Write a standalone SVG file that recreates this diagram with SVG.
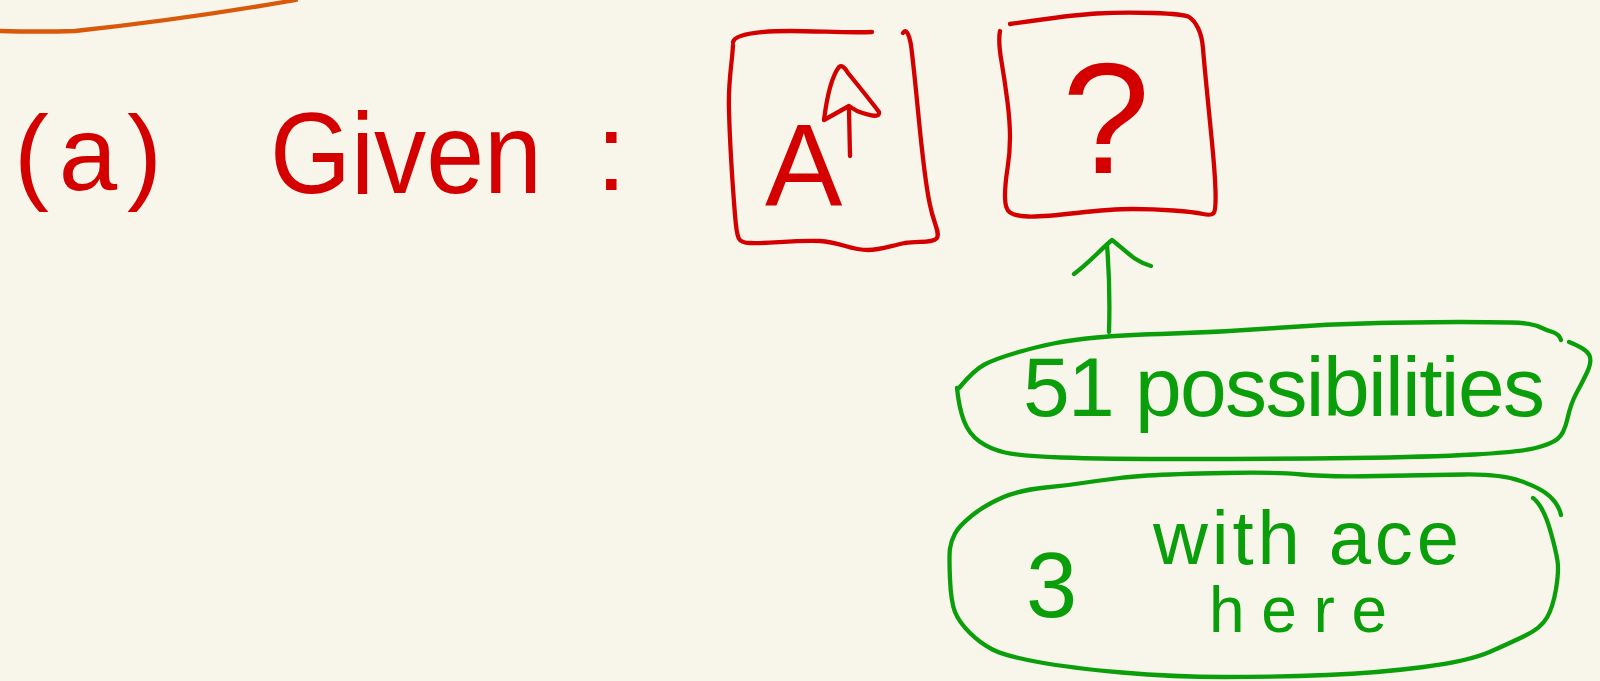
<svg xmlns="http://www.w3.org/2000/svg" width="1600" height="681" viewBox="0 0 1600 681">
<style>
.r{fill:none;stroke:#D40000;stroke-width:4.3;stroke-linecap:round;stroke-linejoin:round}
.g{fill:none;stroke:#0A9E0A;stroke-width:4.3;stroke-linecap:round;stroke-linejoin:round}
.o{fill:none;stroke:#D9580A;stroke-width:4.3;stroke-linecap:round}
.tr{fill:#D40000;font-family:"Liberation Sans",Arial,sans-serif}
.tg{fill:#0A9E0A;font-family:"Liberation Sans",Arial,sans-serif}
</style>
<rect width="1600" height="681" fill="#F8F6EA"/>
<path class="o" d="M0,31 Q40,32 75,31 Q180,20 296,0"/>
<g id="title">
<text class="tr" x="14" y="190" font-size="105" textLength="148" lengthAdjust="spacing">(a)</text>
<text class="tr" x="270" y="193" font-size="115" textLength="272" lengthAdjust="spacingAndGlyphs">Given</text>
<text class="tr" x="596" y="190" font-size="110">:</text>
</g>
<g id="box-ace">
<path class="r" d="M733,42 C735,34 760,31 790,31 C820,31 845,33 872,32"/>
<path class="r" d="M903,33 C906,28 909,34 911,45 C918,100 922,170 930,205 C934,225 940,232 937,238 C933,243 920,241 905,243 C890,246 880,250 868,250 C850,250 840,242 820,241 C790,240 770,244 750,243 C738,243 737,240 735,215 C733,190 730,150 729,110 C728,80 732,65 733,45"/>
<text class="tr" x="765" y="206" font-size="116">A</text>
<path class="r" d="M850,156 L849,110"/>
<path class="r" d="M824,120 Q829,80 839,67 Q843,64 848,73 Q870,100 879,112 Q881,120 857,111 L849,106 L824,120"/>
</g>
<g id="box-unknown">
<path class="r" d="M1010,24 Q1071,15 1096.5,13.5 Q1122,12 1153,13 Q1184,14 1189,17 Q1194,20 1198,28 Q1202,36 1203,48.5 Q1204,61 1206.5,86.5 Q1209,112 1212,142.5 Q1215,173 1215.5,191 Q1216,209 1214,212.5 Q1212,216 1203,214 Q1194,212 1173.5,210.5 Q1153,209 1132.5,209 Q1112,209 1076.5,213 Q1041,217 1028,216.5 Q1015,216 1010,212.5 Q1005,209 1005,196.5 Q1005,184 1007.5,168.5 Q1010,153 1010,137.5 Q1010,122 1007.5,102 Q1005,82 1001.5,61.5 Q998,41 1000,31"/>
<text class="tr" x="1106" y="173" font-size="158" text-anchor="middle">?</text>
</g>
<g id="connectors">
<path class="g" d="M1109,332 C1110,300 1109,270 1107,245"/>
<path class="g" d="M1074,274 C1090,262 1100,250 1112,240 C1125,250 1135,262 1151,266"/>
</g>
<g id="node-51">
<path class="g" d="M959,388 Q974,370 984.5,364.5 Q995,359 1015.5,353 Q1036,347 1053.5,343.5 Q1071,340 1096.5,337.5 Q1122,335 1173,333.5 Q1224,332 1275.5,328 Q1327,324 1378,323 Q1429,322 1459.5,322 Q1490,322 1510.5,322.5 Q1531,323 1538.5,326.5 Q1546,330 1552.5,332 Q1559,334 1561,340"/>
<path class="g" d="M1569,342 Q1587,349 1589.5,355.5 Q1592,362 1587,372.5 Q1582,383 1576.5,393 Q1571,403 1567.5,418.5 Q1564,434 1557.5,439 Q1551,444 1535.5,448 Q1520,452 1474.5,454.5 Q1429,457 1352.5,458 Q1276,459 1189,459 Q1102,459 1061,457.5 Q1020,456 1005,452.5 Q990,449 979.5,441.5 Q969,434 964,421 Q959,408 957,388"/>
<text class="tg" x="1023" y="416" font-size="84" textLength="522" lengthAdjust="spacing">51 possibilities</text>
</g>
<g id="node-3">
<path class="g" d="M1561,515 Q1559,505 1550,496.5 Q1541,488 1520.5,481 Q1500,474 1464.5,474.5 Q1429,475 1378,476 Q1327,477 1301.5,474.5 Q1276,472 1224.5,473 Q1173,474 1147.5,475.5 Q1122,477 1096.5,481 Q1071,485 1045.5,487.5 Q1020,490 1002.5,497.5 Q985,505 972,515.5 Q959,526 955,533.5 Q951,541 950,548.5 Q949,556 950,579 Q951,602 955,612 Q959,622 969.5,632.5 Q980,643 992.5,649.5 Q1005,656 1038,662 Q1071,668 1122,672.5 Q1173,677 1224.5,677 Q1276,677 1327,675 Q1378,673 1423.5,667 Q1469,661 1489.5,652 Q1510,643 1525.5,635.5 Q1541,628 1547,617.5 Q1553,607 1556,589 Q1559,571 1557.5,561 Q1556,551 1551,533 Q1546,515 1540,506 Q1536,500 1533,498"/>
<text class="tg" x="1026" y="617" font-size="92">3</text>
<text class="tg" x="1153" y="564" font-size="76" textLength="306" lengthAdjust="spacing">with ace</text>
<text class="tg" x="1209" y="632" font-size="64" textLength="178" lengthAdjust="spacing">here</text>
</g>
</svg>
